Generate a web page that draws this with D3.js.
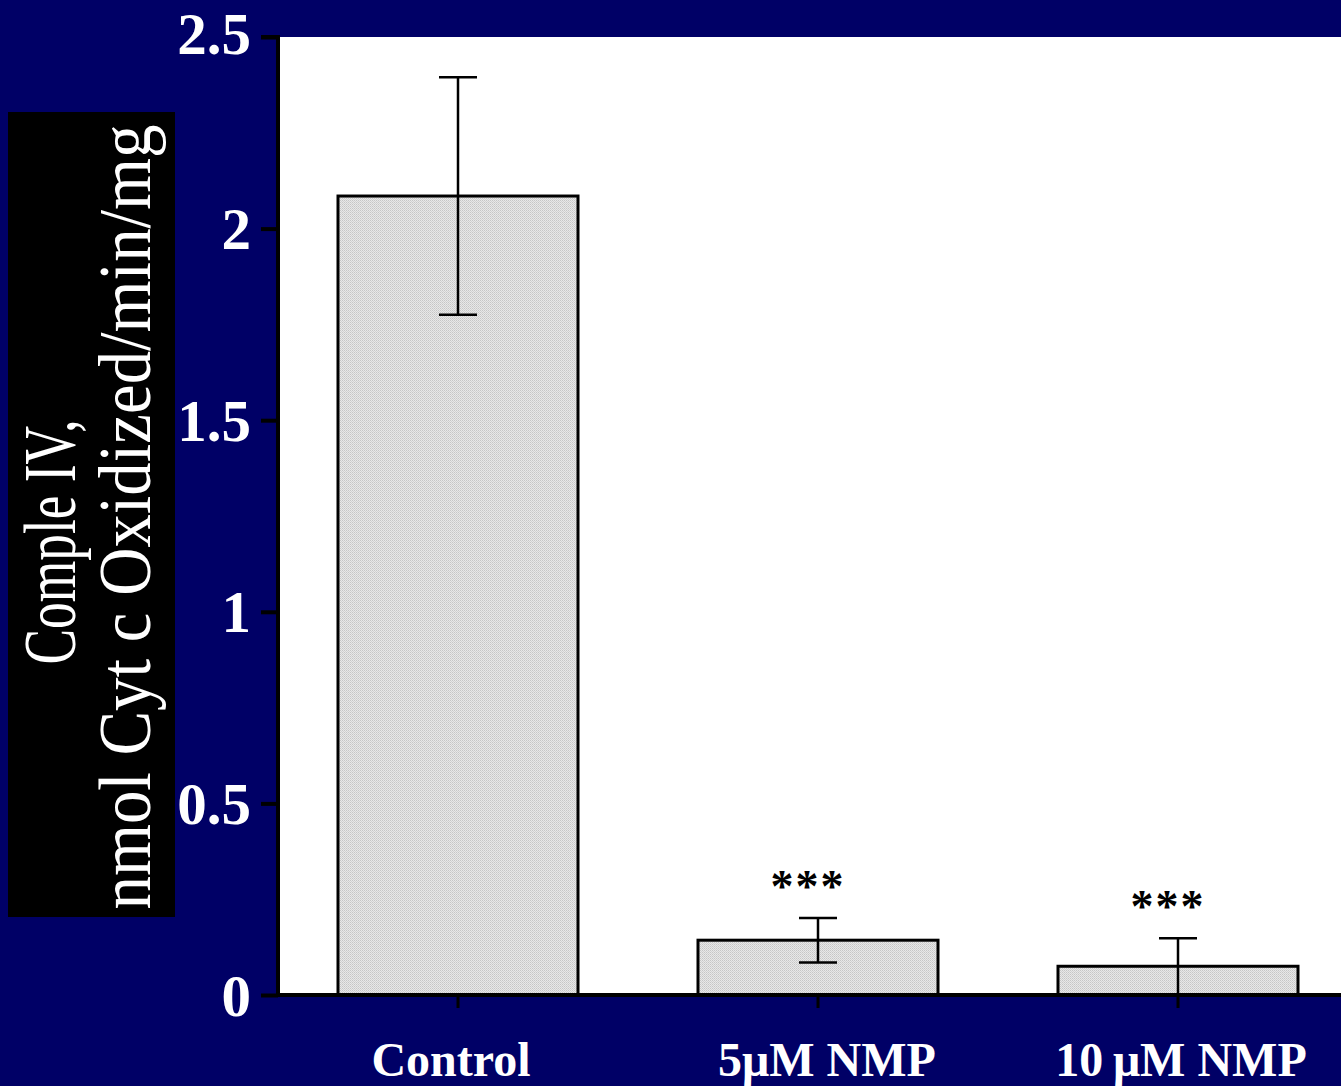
<!DOCTYPE html>
<html><head><meta charset="utf-8">
<script src="https://cdn.jsdelivr.net/npm/d3@7"></script>
<style>html,body{margin:0;padding:0;background:#000066;}svg{display:block;}</style>
</head><body>
<svg id="chart" width="1341" height="1086"></svg>
<script>
const categories = ["Control", "5\u03bcM NMP", "10\u2009\u03bcM NMP"];
const means = [2.085, 0.143, 0.075];
const errors = [0.31, 0.058, 0.073];
const significance = ["", "***", "***"];
const yTicks = [0, 0.5, 1, 1.5, 2, 2.5];
const yTickLabels = ["0", "0.5", "1", "1.5", "2", "2.5"];
const yLabelLines = ["Comple IV,", "nmol Cyt c Oxidized/min/mg"];

const W = 1341, H = 1086;
const svg = d3.select("#chart");
const plot = {left: 278, top: 37, bottom: 995, right: 1358};

svg.append("rect").attr("width", W).attr("height", H).attr("fill", "#000066");

const defs = svg.append("defs");
const pat = defs.append("pattern").attr("id", "stip").attr("width", 2).attr("height", 2)
  .attr("patternUnits", "userSpaceOnUse");
pat.append("rect").attr("width", 2).attr("height", 2).attr("fill", "#e8e8e8");
pat.append("rect").attr("width", 1).attr("height", 1).attr("fill", "#c6c6c6");
pat.append("rect").attr("x", 1).attr("y", 1).attr("width", 1).attr("height", 1).attr("fill", "#d2d2d2");

const y = d3.scaleLinear().domain([0, 2.5]).range([plot.bottom, plot.top]);
const x = d3.scaleBand().domain(categories).range([plot.left, plot.right])
  .paddingInner(1/3).paddingOuter(1/6);

// white plot area
svg.append("rect").attr("x", plot.left).attr("y", plot.top)
  .attr("width", W - plot.left).attr("height", plot.bottom - plot.top).attr("fill", "#ffffff");

// bars
svg.selectAll("rect.bar").data(categories).join("rect").attr("class", "bar")
  .attr("x", d => x(d)).attr("width", x.bandwidth())
  .attr("y", (d, i) => y(means[i])).attr("height", (d, i) => y(0) - y(means[i]))
  .attr("fill", "url(#stip)").attr("stroke", "#000").attr("stroke-width", 3);

// error bars
const eb = svg.append("g").attr("stroke", "#000").attr("stroke-width", 2.5);
categories.forEach((c, i) => {
  const cx = x(c) + x.bandwidth() / 2;
  const hi = y(means[i] + errors[i]), lo = y(Math.max(0, means[i] - errors[i]));
  eb.append("line").attr("x1", cx).attr("x2", cx).attr("y1", hi).attr("y2", lo);
  eb.append("line").attr("x1", cx - 19).attr("x2", cx + 19).attr("y1", hi).attr("y2", hi);
  eb.append("line").attr("x1", cx - 19).attr("x2", cx + 19).attr("y1", lo).attr("y2", lo);
});

// significance
svg.selectAll("text.sig").data(categories).join("text").attr("class", "sig")
  .attr("x", d => x(d) + x.bandwidth() / 2 - 10)
  .attr("y", (d, i) => y(means[i] + errors[i]) - 16)
  .attr("text-anchor", "middle")
  .attr("font-family", "'Liberation Serif', 'Times New Roman', serif")
  .attr("font-weight", "bold").attr("font-size", 46).attr("fill", "#000")
  .attr("letter-spacing", 2)
  .text((d, i) => significance[i]);

// y axis
const yAxis = d3.axisLeft(y).tickValues(yTicks).tickSize(17).tickPadding(10)
  .tickFormat((d, i) => yTickLabels[i]);
const gy = svg.append("g").attr("transform", `translate(${plot.left},0)`).call(yAxis);
gy.select(".domain").attr("stroke", "#000").attr("stroke-width", 4)
  .attr("d", `M-17,${plot.top}H0V${plot.bottom}`);
gy.selectAll(".tick line").attr("stroke", "#000").attr("stroke-width", 4);
gy.selectAll(".tick text").attr("fill", "#fff")
  .attr("font-family", "'Liberation Serif', 'Times New Roman', serif")
  .attr("font-weight", "bold").attr("font-size", 59)
  .attr("dy", d => d === 2.5 ? "0.28em" : "0.34em");

// x axis
const xAxis = d3.axisBottom(x).tickSize(13).tickPadding(34);
const gx = svg.append("g").attr("transform", `translate(0,${plot.bottom})`).call(xAxis);
gx.select(".domain").attr("stroke", "#000").attr("stroke-width", 4)
  .attr("d", `M${plot.left - 2},0H${W}`);
gx.selectAll(".tick line").attr("stroke", "#000").attr("stroke-width", 3);
gx.selectAll(".tick text").attr("fill", "#fff")
  .attr("font-family", "'Liberation Serif', 'Times New Roman', serif")
  .attr("font-weight", "bold").attr("font-size", 48)
  .attr("dx", (d, i) => [-7, 9, 3][i]);

// y label box
svg.append("rect").attr("x", 8).attr("y", 112).attr("width", 167).attr("height", 805).attr("fill", "#000");
const lab = svg.append("g").attr("font-family", "'Liberation Serif', 'Times New Roman', serif")
  .attr("fill", "#fff").attr("font-size", 74);
lab.append("text").attr("transform", "translate(75,542) rotate(-90)")
  .attr("text-anchor", "middle").attr("textLength", 245).attr("lengthAdjust", "spacingAndGlyphs")
  .text(yLabelLines[0]);
lab.append("text").attr("transform", "translate(150,517) rotate(-90)")
  .attr("text-anchor", "middle").attr("textLength", 785).attr("lengthAdjust", "spacingAndGlyphs")
  .text(yLabelLines[1]);
</script>
</body></html>
